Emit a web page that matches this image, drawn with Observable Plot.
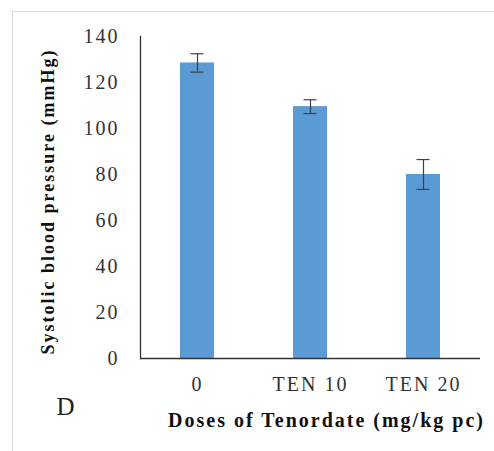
<!DOCTYPE html>
<html>
<head>
<meta charset="utf-8">
<script src="https://cdn.jsdelivr.net/npm/d3@7"></script>
<script src="https://cdn.jsdelivr.net/npm/@observablehq/plot@0.6"></script>
<style>
  html, body { margin: 0; padding: 0; background: #fff; }
  #wrap { position: relative; width: 494px; height: 451px; overflow: hidden; }
  #border { position: absolute; left: 12px; top: 11px; width: 600px; height: 600px;
            border-left: 1px solid #d9d9d9; border-top: 1px solid #d9d9d9; }
  #chart { position: absolute; left: 0; top: 0; }
</style>
</head>
<body>
<div id="wrap"><div id="border"></div><div id="chart"></div></div>
<script>
const doses = ["0", "TEN 10", "TEN 20"];
const pressure = [128.5, 109.5, 80];
const errors = [4, 3, 6.5];
const yTicks = [0, 20, 40, 60, 80, 100, 120, 140];
const yTitle = "Systolic blood pressure (mmHg)";
const xTitle = "Doses of Tenordate (mg/kg pc)";
const panel = "D";

const data = doses.map((d, i) => ({dose: d, value: pressure[i], err: errors[i]}));

const serif = "'Liberation Serif', 'Times New Roman', serif";

const plot = Plot.plot({
  width: 494,
  height: 451,
  marginLeft: 140,
  marginRight: 14,
  marginTop: 36,
  marginBottom: 93,
  style: {fontFamily: serif, background: "transparent", overflow: "visible"},
  x: {domain: doses, paddingInner: 0.7, paddingOuter: 0.35, axis: null},
  y: {domain: [0, 140], axis: null},
  marks: [
    Plot.barY(data, {x: "dose", y: "value", fill: "#5b9bd5"}),
    Plot.ruleX(data, {x: "dose", y1: d => d.value - d.err, y2: d => d.value + d.err, stroke: "#404040", strokeWidth: 1.2}),
    Plot.tickY(data, {x: "dose", y: d => d.value - d.err, stroke: "#404040", strokeWidth: 1.2, insetLeft: 10.5, insetRight: 10.5}),
    Plot.tickY(data, {x: "dose", y: d => d.value + d.err, stroke: "#404040", strokeWidth: 1.2, insetLeft: 10.5, insetRight: 10.5}),
    Plot.frame({anchor: "left", stroke: "#333", strokeWidth: 1.3}),
    Plot.ruleY([0], {stroke: "#333", strokeWidth: 1.3}),
    Plot.axisY({ticks: yTicks, tickSize: 0, tickPadding: 21, fontSize: 20, label: null,
                fill: "#333", tickFormat: d => String(d)}),
    Plot.axisX({tickSize: 0, tickPadding: 18, fontSize: 20, label: null, fill: "#333"}),
    Plot.text([yTitle], {frameAnchor: "left", dx: -92, dy: 4, rotate: -90, fontSize: 18,
                         fontWeight: "bold", fill: "#111", textAnchor: "middle"}),
    Plot.text([xTitle], {frameAnchor: "bottom", dx: 16, dy: 68, fontSize: 20,
                         fontWeight: "bold", fill: "#111", textAnchor: "middle"}),
    Plot.text([panel], {frameAnchor: "bottom-left", dx: -75, dy: 56, fontSize: 25,
                        fill: "#222", textAnchor: "middle"})
  ]
});
plot.querySelectorAll("text").forEach(t => t.style.letterSpacing = "2px");
plot.querySelectorAll("g[aria-label='text'] text").forEach(t => {
  if (t.textContent === panel) t.style.letterSpacing = "0px";
});
document.getElementById("chart").appendChild(plot);
</script>
</body>
</html>
